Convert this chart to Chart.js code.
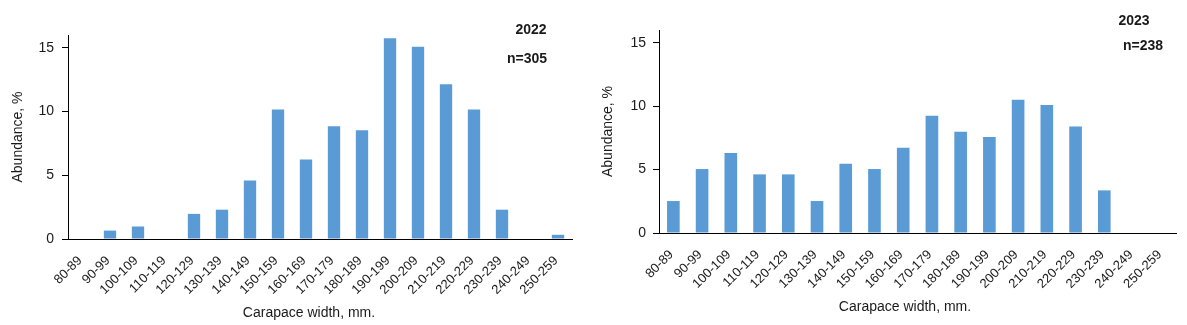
<!DOCTYPE html>
<html>
<head>
<meta charset="utf-8">
<script src="https://cdn.jsdelivr.net/npm/chart.js@4.4.1/dist/chart.umd.min.js"></script>
<style>
    html, body { margin: 0; padding: 0; background: #fff; }
    #wrap { position: relative; width: 1187px; height: 325px; overflow: hidden; }
    .box { position: absolute; top: 0; height: 325px; }
</style>
</head>
<body>
<div id="wrap">
    <div class="box" style="left:0; width:590px;"><canvas id="chart2022" width="590" height="325"></canvas></div>
    <div class="box" style="left:590px; width:597px;"><canvas id="chart2023" width="597" height="325"></canvas></div>
</div>
<script>
// size classes (carapace width, mm)
var sizeClasses = ['80-89', '90-99', '100-109', '110-119', '120-129', '130-139', '140-149', '150-159', '160-169',
    '170-179', '180-189', '190-199', '200-209', '210-219', '220-229', '230-239', '240-249', '250-259'];

// abundance, %
var abundance2022 = [0, 0.66, 0.98, 0, 1.97, 2.30, 4.59, 10.16, 6.23, 8.85, 8.52, 15.74, 15.08, 12.13, 10.16, 2.30, 0, 0.33];
var abundance2023 = [2.52, 5.04, 6.30, 4.62, 4.62, 2.52, 5.46, 5.04, 6.72, 9.24, 7.98, 7.56, 10.50, 10.08, 8.40, 3.36, 0, 0];

var yTicks = [0, 5, 10, 15];
var yMax = 16;

var FONT = "Arial, 'Liberation Sans', sans-serif";
var TEXT = '#1a1a1a';

// draws the year / n labels and the x title
var notesPlugin = {
    id: 'notes',
    afterDraw: function (chart) {
        var ctx = chart.ctx;
        var notes = chart.options.plugins.notes.items;
        ctx.save();
        ctx.textBaseline = 'middle';
        ctx.textAlign = 'center';
        ctx.fillStyle = TEXT;
        notes.forEach(function (n) {
            ctx.font = (n.bold ? 'bold ' : '') + n.size + 'px ' + FONT;
            ctx.fillText(n.text, n.x, n.y);
        });
        ctx.restore();
    }
};

function makeChart(id, values, opt) {
    var ctx = document.getElementById(id).getContext('2d');
    return new Chart(ctx, {
        type: 'bar',
        data: {
            labels: sizeClasses,
            datasets: [{
                data: values,
                backgroundColor: '#5b9bd5',
                borderWidth: 0,
                categoryPercentage: 1,
                barPercentage: opt.barPct
            }]
        },
        plugins: [notesPlugin],
        options: {
            responsive: false,
            animation: false,
            layout: {
                padding: { left: 0, right: opt.padRight, top: opt.padTop, bottom: 0 }
            },
            plugins: {
                legend: { display: false },
                tooltip: { enabled: false },
                notes: { items: opt.notes }
            },
            scales: {
                x: {
                    grid: { display: false, drawTicks: false },
                    border: { display: true, color: '#000', width: 1 },
                    ticks: {
                        autoSkip: false,
                        minRotation: 45,
                        maxRotation: 45,
                        padding: 14,
                        labelOffset: -2,
                        color: TEXT,
                        font: { family: FONT, size: 13 }
                    },
                    afterFit: function (scale) { scale.height = opt.xHeight; }
                },
                y: {
                    min: 0,
                    max: yMax,
                    grid: { display: true, drawOnChartArea: false, drawTicks: true, tickLength: 6, color: '#000' },
                    border: { display: true, color: '#000', width: 1 },
                    ticks: {
                        includeBounds: false,
                        padding: opt.yTickPad,
                        color: TEXT,
                        font: { family: FONT, size: 14 }
                    },
                    afterBuildTicks: function (scale) {
                        scale.ticks = yTicks.map(function (v) { return { value: v }; });
                    },
                    title: {
                        display: true,
                        text: 'Abundance, %',
                        color: TEXT,
                        padding: { top: opt.yTitlePad, bottom: 0 },
                        font: { family: FONT, size: 14 }
                    },
                    afterFit: function (scale) { scale.width = opt.yWidth; }
                }
            }
        }
    });
}

var chart2022 = makeChart('chart2022', abundance2022, {
    barPct: 0.44,
    yWidth: 68,
    padRight: 18,
    padTop: 35,
    xHeight: 86,
    yTickPad: 8,
    yTitlePad: 10,
    notes: [
        { text: '2022', x: 531, y: 30, size: 14, bold: true },
        { text: 'n=305', x: 527, y: 59, size: 14, bold: true },
        { text: 'Carapace width, mm.', x: 309, y: 313, size: 14, bold: false }
    ]
});

var chart2023 = makeChart('chart2023', abundance2023, {
    barPct: 0.44,
    yWidth: 69,
    padRight: 8,
    padTop: 30,
    xHeight: 92,
    yTickPad: 7,
    yTitlePad: 10,
    notes: [
        { text: '2023', x: 544, y: 21, size: 14, bold: true },
        { text: 'n=238', x: 553, y: 46, size: 14, bold: true },
        { text: 'Carapace width, mm.', x: 315, y: 307, size: 14, bold: false }
    ]
});
</script>
</body>
</html>
